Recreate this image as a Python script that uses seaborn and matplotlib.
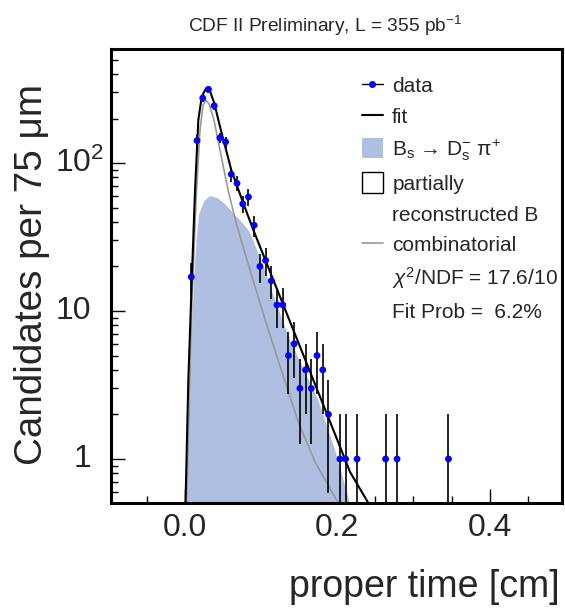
import numpy as np
import pandas as pd
import matplotlib
matplotlib.use("Agg")
import matplotlib.pyplot as plt
import matplotlib.transforms as mtransforms
from matplotlib.lines import Line2D
from matplotlib.patches import Patch
from matplotlib.ticker import FixedLocator, LogLocator, NullFormatter
import seaborn as sns

# ---------------- data ----------------
# histogram bin centres [cm] (non-empty bins only) and candidate counts
time_cm = [0.0085, 0.0160, 0.0235, 0.0310, 0.0385, 0.0460, 0.0535, 0.0610,
           0.0685, 0.0760, 0.0835, 0.0910, 0.0985, 0.1060, 0.1135, 0.1210,
           0.1285, 0.1360, 0.1435, 0.1510, 0.1585, 0.1660, 0.1735, 0.1810,
           0.1885, 0.2035, 0.2110, 0.2260, 0.2635, 0.2785, 0.3460]
counts = [17, 142, 275, 315, 244, 148, 139, 84, 73, 53, 59, 38, 20, 22, 16, 11,
          11, 5, 6, 3, 4, 3, 5, 4, 2, 1, 1, 1, 1, 1, 1]

# total fit curve
fit_x = [0.0009, 0.0046, 0.0091, 0.0134, 0.0177, 0.0222, 0.0278, 0.0322,
         0.0387, 0.0462, 0.0610, 0.0768, 0.0899, 0.1424, 0.1949, 0.2168, 0.2408]
fit_y = [0.504, 3.42, 16.2, 65.7, 195, 281, 320, 315, 253, 176, 89.7, 53.4,
         35.3, 7.44, 1.57, 0.817, 0.504]

# Bs -> Ds pi signal component (filled)
sig_x = [0.0016, 0.0062, 0.0094, 0.0121, 0.0154, 0.0186, 0.0252, 0.0331,
         0.0436, 0.0541, 0.0646, 0.0751, 0.0856, 0.1013, 0.1184, 0.1381,
         0.1577, 0.1752, 0.1971, 0.2168]
sig_y = [0.504, 1.57, 7.44, 16.2, 30.2, 44.6, 55.1, 60.0, 57.7, 52.1, 45.2,
         39.8, 33.9, 21.3, 11.9, 6.37, 3.87, 2.50, 1.15, 0.504]

# combinatorial background component
comb_x = [0.0022, 0.0055, 0.0094, 0.0147, 0.0199, 0.0239, 0.0278, 0.0318,
          0.0383, 0.0462, 0.0567, 0.0681, 0.0790, 0.1013, 0.1249, 0.1490,
          0.1710, 0.2014]
comb_y = [0.504, 1.83, 11.9, 56.2, 167, 246, 265, 251, 195, 122, 65.7, 38.1,
          24.5, 10.2, 4.24, 1.77, 0.952, 0.504]

x_ticks = [0.0, 0.2, 0.4]
x_tick_labels = ["0.0", "0.2", "0.4"]
y_ticks = [1, 10, 100]
y_tick_labels = ["1", "10", "$10^{2}$"]

legend_labels = ["data", "fit", r"B$_{\rm s}$ → D$_{\rm s}^{-}$ π$^{+}$",
                 "partially", "reconstructed B", "combinatorial",
                 r"$\chi^{2}$/NDF = 17.6/10", "Fit Prob =  6.2%"]

# ---------------- style ----------------
sns.set_style("ticks")
plt.rcParams["font.family"] = ["Liberation Sans", "DejaVu Sans"]
plt.rcParams["mathtext.fontset"] = "custom"
plt.rcParams["mathtext.rm"] = "Liberation Sans"
plt.rcParams["mathtext.it"] = "Liberation Sans:italic"
plt.rcParams["mathtext.bf"] = "Liberation Sans:bold"

BLUE_FILL = "#afbfe1"
GREY = "#999999"

W, H = 565, 613
fig = plt.figure(figsize=(W / 100, H / 100), dpi=100)
fig.patch.set_facecolor("white")
L, R, T, B = 111, 562.3, 49, 503
ax = fig.add_axes([L / W, 1 - B / H, (R - L) / W, (B - T) / H])

df_data = pd.DataFrame({"t": time_cm, "n": counts})
df_data["err"] = np.sqrt(df_data["n"])
df_data["lo"] = np.maximum(df_data["n"] - df_data["err"], 1e-3)
df_data["hi"] = df_data["n"] + df_data["err"]

# signal fill
ax.fill_between(sig_x, sig_y, 1e-3, color=BLUE_FILL, lw=0, zorder=1)

# combinatorial and total fit
sns.lineplot(x=comb_x, y=comb_y, ax=ax, color=GREY, lw=1.2, sort=False,
             estimator=None, zorder=2)
sns.lineplot(x=fit_x, y=fit_y, ax=ax, color="black", lw=1.5, sort=False,
             estimator=None, zorder=3)

# error bars and points
ax.vlines(df_data["t"], df_data["lo"], df_data["hi"], color="black", lw=1.2, zorder=4)
sns.scatterplot(data=df_data, x="t", y="n", ax=ax, color="#0000ff", s=24,
                edgecolor="none", zorder=5)

ax.set_yscale("log")
ax.set_xlim(-0.0969, 0.4954)
ax.set_ylim(0.504, 590)
ax.set_xlabel("")
ax.set_ylabel("")

# frame
for sp in ax.spines.values():
    sp.set_visible(True)
    sp.set_linewidth(2.2)
    sp.set_color("black")

# ticks
ax.xaxis.set_major_locator(FixedLocator(x_ticks))
ax.set_xticklabels(x_tick_labels)
ax.xaxis.set_minor_locator(FixedLocator([-0.05, 0.05, 0.1, 0.15, 0.25, 0.3, 0.35, 0.45]))
ax.yaxis.set_major_locator(FixedLocator(y_ticks))
ax.yaxis.set_minor_locator(LogLocator(base=10, subs=np.arange(2, 10)))
ax.yaxis.set_minor_formatter(NullFormatter())
ax.set_yticklabels([])
ax.tick_params(axis="both", which="both", direction="in", top=False, right=False,
               width=1.0, color="black")
ax.tick_params(axis="both", which="major", length=10)
ax.tick_params(axis="both", which="minor", length=5)
ax.tick_params(axis="x", which="major", labelsize=23, pad=7)

# y tick labels (ROOT-like alignment: digits aligned, superscript sticking out)
blend = mtransforms.blended_transform_factory(ax.transAxes, ax.transData)
for v, lab in zip(y_ticks, y_tick_labels):
    if lab.startswith("$"):
        ax.text((55 - L) / (R - L), v, lab, transform=blend, ha="left",
                va="center", fontsize=23)
    else:
        ax.text((91 - L) / (R - L), v, lab, transform=blend, ha="right",
                va="center", fontsize=23)

# legend
handles = [
    Line2D([], [], color="black", lw=1.0, marker="o", mfc="#0000ff", mec="#0000ff", ms=4),
    Line2D([], [], color="black", lw=1.5),
    Patch(facecolor=BLUE_FILL, edgecolor="none"),
    Patch(facecolor="white", edgecolor="black", lw=1.0),
    Patch(facecolor="none", edgecolor="none"),
    Line2D([], [], color=GREY, lw=1.2),
    Patch(facecolor="none", edgecolor="none"),
    Patch(facecolor="none", edgecolor="none"),
]
leg = ax.legend(handles, legend_labels, loc="upper left",
                bbox_to_anchor=((362 - L) / (R - L), 1 - (75 - T) / (B - T)),
                frameon=False, fontsize=15, handlelength=1.0, handleheight=1.15,
                handletextpad=0.45, labelspacing=0.46, borderpad=0, borderaxespad=0)

# titles / axis labels
fig.text(325 / W, 1 - 32 / H, r"CDF II Preliminary, L = 355 pb$^{-1}$",
         ha="center", va="baseline", fontsize=13.8)
fig.text(560 / W, 1 - 597 / H, "proper time [cm]", ha="right", va="baseline",
         fontsize=27)
fig.text(32 / W, 1 - 274 / H, "Candidates per 75 μm", rotation=90,
         ha="center", va="center", fontsize=27.8)

fig.savefig("out.png", dpi=100, facecolor="white")
